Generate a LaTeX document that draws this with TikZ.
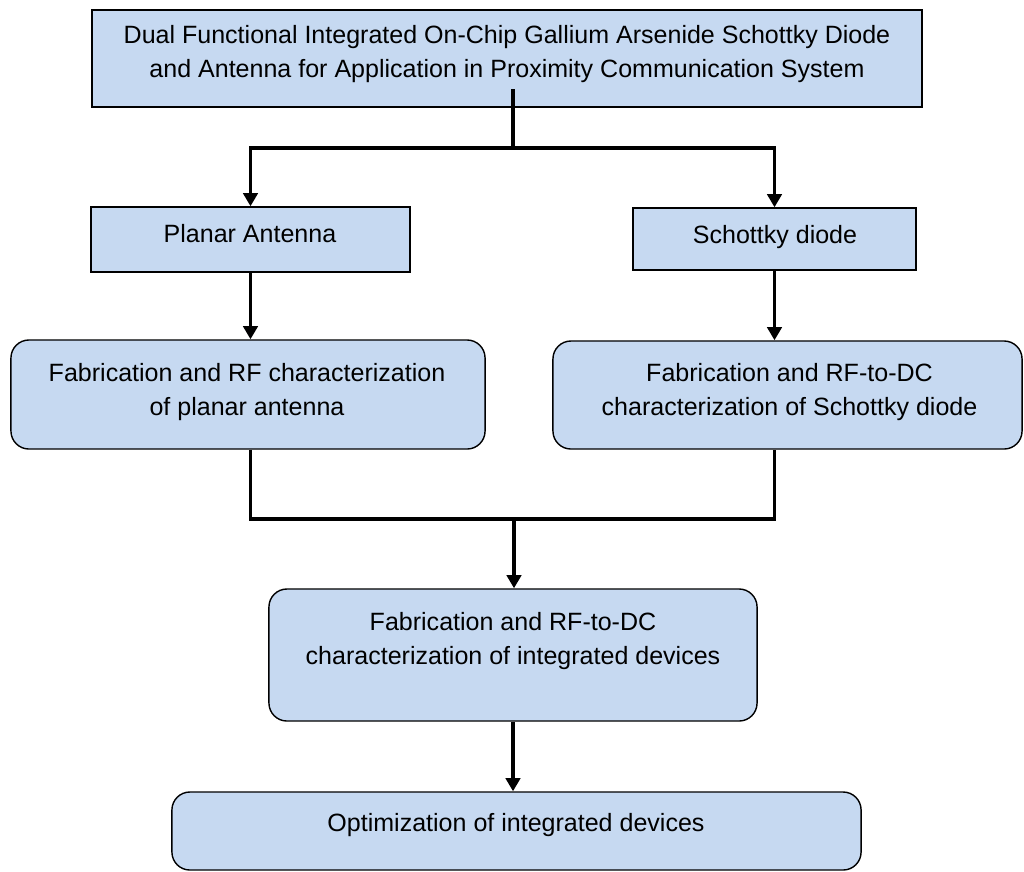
\documentclass[tikz,border=0pt]{standalone}
\usepackage{fontspec}
\setmainfont{Liberation Sans}
\usepackage{tikz}
\usetikzlibrary{arrows.meta}
\usetikzlibrary{positioning}
\definecolor{boxblue}{HTML}{C6D9F1}
\tikzset{
stage/.style={draw=black, line width=1pt, fill=boxblue, inner sep=0pt},
roundstage/.style={stage, rounded corners=0.45cm},
txt/.style={align=center, inner sep=0pt, anchor=north, font=\fontsize{17.8}{24.2}\selectfont},
link/.style={line width=2.5pt},
arrow/.style={link, -{Triangle[length=0.33cm, width=0.36cm]}}}

\begin{document}
\begin{tikzpicture}[x=0.025cm, y=-0.025cm]

                    \useasboundingbox (0,0) rectangle (1024,871);

                    \node[stage, minimum width=20.75cm, minimum height=2.425cm] (title) at (507, 58.5) {};
                    \node[stage, minimum width=7.975cm, minimum height=1.625cm] (ant) at (250.5, 239.5) {};
                    \node[stage, minimum width=7.075cm, minimum height=1.55cm] (diode) at (774.5, 239) {};
                    \node[roundstage, minimum width=11.85cm, minimum height=2.725cm] (fabA) at (248, 394.5) {};
                    \node[roundstage, minimum width=11.725cm, minimum height=2.7cm] (fabD) at (787.5, 395) {};
                    \node[roundstage, minimum width=12.2cm, minimum height=3.3cm] (integ) at (513, 655) {};
                    \node[roundstage, minimum width=17.225cm, minimum height=1.95cm] (optim) at (516.5, 831) {};

                    \node[txt] (titletxt) at (507, 25) {Dual Functional Integrated On-Chip Gallium Arsenide Schottky Diode\\and Antenna for Application in Proximity Communication System};
                    \node[txt] (anttxt) at (250, 224) {Planar Antenna};
                    \node[txt] (diodetxt) at (775, 225) {Schottky diode};
                    \node[txt] (fabAtxt) at (247, 363) {Fabrication and RF characterization\\of planar antenna};
                    \node[txt] (fabDtxt) at (789.5, 363) {Fabrication and RF-to-DC\\characterization of Schottky diode};
                    \node[txt] (integtxt) at (513, 612) {Fabrication and RF-to-DC\\characterization of integrated devices};
                    \node[txt] (optimtxt) at (516, 813) {Optimization of integrated devices};

                    \coordinate (titleout) at (513, 89);
                    \coordinate (split) at (513, 148);
                    \coordinate (merge) at (514, 519);

                    \draw[link] (titleout) -- (split);
                    \draw[arrow] (split) -| (ant);
                    \draw[arrow] (split) -| (diode);
                    \draw[arrow] (ant) -- (ant |- fabA.north);
                    \draw[arrow] (diode) -- (diode |- fabD.north);
                    \draw[link] (fabA.south -| ant) |- (merge) -| (fabD.south -| diode);
                    \draw[arrow] (merge) -- (merge |- integ.north);
                    \draw[arrow] (integ) -- (integ |- optim.north);

                \end{tikzpicture}
\end{document}
